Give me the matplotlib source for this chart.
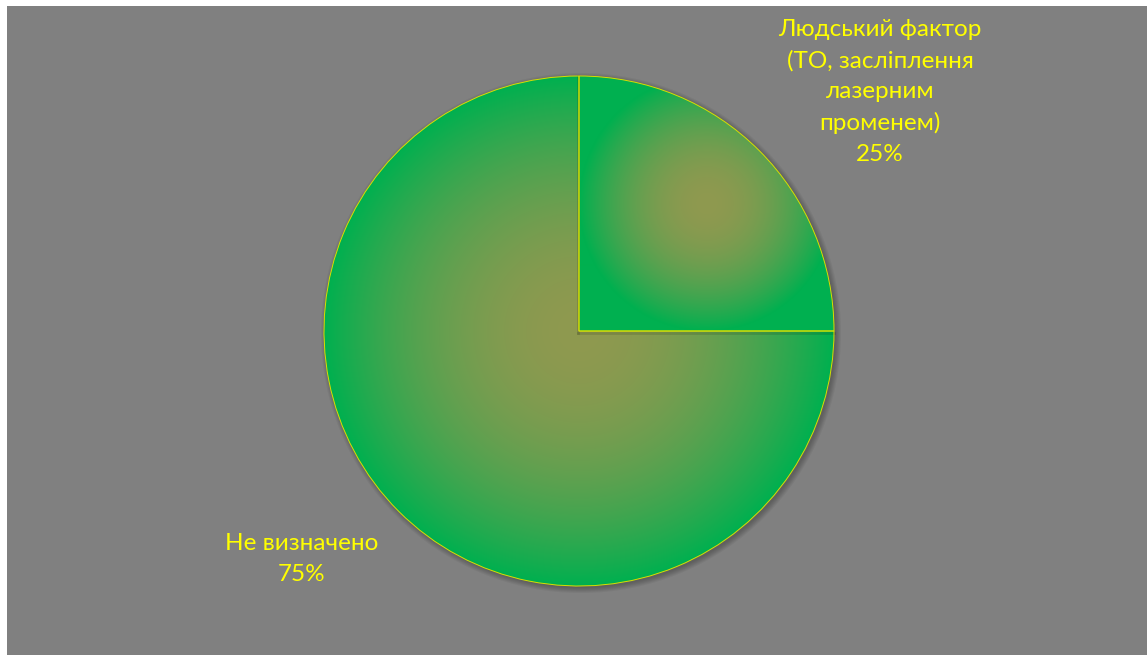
import numpy as np
import matplotlib
matplotlib.use('Agg')
import matplotlib.pyplot as plt
from matplotlib.patches import Circle

# Causes of incidents (share of cases)
labels = ['Людський фактор\n(ТО, засліплення\nлазерним\nпроменем)', 'Не визначено']
values = [25, 75]

W, H = 1147, 655
bg = '#808080'
edge_green = np.array([0, 176, 80]) / 255.0
centre_olive = np.array([143, 153, 79]) / 255.0

fig = plt.figure(figsize=(W / 100, H / 100), dpi=100)
fig.patch.set_facecolor('white')

# grey plot area, axes units equal to pixels (y measured upward)
ax = fig.add_axes([7 / W, 0, (W - 7) / W, (H - 6) / H])

cx, cy, r = 579, H - 331, 255

# soft drop shadow under the pie
for k in range(6):
    ax.add_patch(Circle((cx + 2, cy - 2), r + 5 - k, color='black',
                        alpha=0.045, lw=0, zorder=1))

wedges, _ = ax.pie(values, center=(cx, cy), radius=r, startangle=90,
                   counterclock=False, frame=True,
                   wedgeprops=dict(facecolor='none', edgecolor='#d8e000',
                                   linewidth=0.7, zorder=4))

# radial gradient fill for every slice, centred on its bounding box
for w in wedges:
    ext = w.get_path().get_extents()
    x0, y0, x1, y1 = ext.x0, ext.y0, ext.x1, ext.y1
    nx, ny = int(x1 - x0) + 1, int(y1 - y0) + 1
    xs = np.linspace(x0, x1, nx)
    ys = np.linspace(y0, y1, ny)
    X, Y = np.meshgrid(xs, ys)
    mx, my = (x0 + x1) / 2, (y0 + y1) / 2
    rad = min(x1 - x0, y1 - y0) / 2
    t = np.clip(np.hypot(X - mx, Y - my) / rad, 0, 1) ** 2.0
    t = t[..., None]
    img = centre_olive * (1 - t) + edge_green * t
    im = ax.imshow(img, extent=(x0, x1, y0, y1), origin='lower',
                   interpolation='bilinear', zorder=2)
    im.set_clip_path(w)

# slim shadow of the small slice on the big one
ax.plot([cx - 1.5, cx - 1.5], [cy - 1.5, cy + r], color='black',
        alpha=0.12, lw=2, zorder=3)
ax.plot([cx - 1.5, cx + r], [cy - 1.5, cy - 1.5], color='black',
        alpha=0.12, lw=2, zorder=3)

ax.set_xlim(7, W)
ax.set_ylim(0, H - 6)
ax.set_aspect('equal')
ax.set_facecolor(bg)
ax.set_xticks([])
ax.set_yticks([])
for s in ax.spines.values():
    s.set_visible(False)

font = dict(family=['Lato', 'DejaVu Sans'], size=17.5, color='#ffff00',
            ha='center', va='center', linespacing=1.56)
ax.text(880, H - 92, f'{labels[0]}\n{values[0]}%', **font)
ax.text(302, H - 559, f'{labels[1]}\n{values[1]}%', **font)

fig.savefig('out.png', dpi=100, facecolor=fig.get_facecolor())
